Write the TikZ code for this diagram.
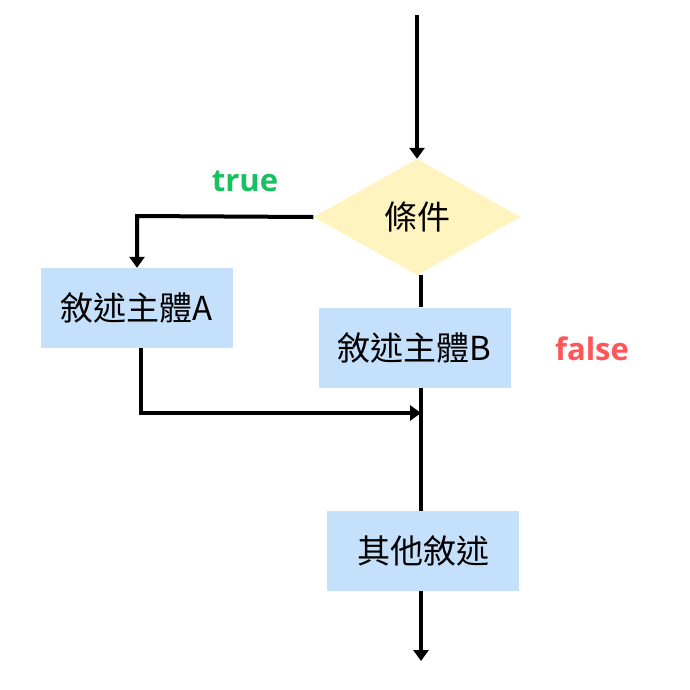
\documentclass[tikz,border=0pt]{standalone}
\usepackage{fontspec}
\usetikzlibrary{shapes.geometric,arrows.meta}
\newfontfamily\cjk{Noto Sans CJK TC}
\newfontfamily\labfont{Open Sans}
\definecolor{boxblue}{RGB}{197,224,250}
\definecolor{condyellow}{RGB}{255,243,191}
\definecolor{truegreen}{RGB}{23,192,96}
\definecolor{falsered}{RGB}{255,84,88}
\tikzset{
  stmt/.style={rectangle,fill=boxblue,inner sep=0pt,minimum width=192pt,minimum height=80pt,font=\cjk\fontsize{33}{38}\selectfont},
  cond/.style={diamond,fill=condyellow,inner sep=0pt,minimum width=207pt,minimum height=116pt,aspect=1.78,font=\cjk\fontsize{33}{38}\selectfont},
  conn/.style={line width=4pt,draw=black},
  arr/.style={conn,-{Triangle[width=15pt,length=11pt]}},
  lab/.style={font=\labfont\bfseries\fontsize{31}{36}\selectfont,inner sep=0pt}
}
\begin{document}
\begin{tikzpicture}[x=1pt,y=-1pt]
\useasboundingbox (0,0) rectangle (690,689);
\node[cond] (c) at (417,217) {條件};
\node[stmt] (a) at (137,308) {敘述主體A};
\node[stmt] (b) at (414.5,347.5) {敘述主體B};
\node[stmt] (o) at (423,551) {其他敘述};
\node[lab,text=truegreen] (t) at (245,181) {true};
\node[lab,text=falsered] (f) at (592,349) {false};
\coordinate (top) at (417,15);
\coordinate (trunk) at (421,0);
\coordinate (bend) at (137,216);
\coordinate (join) at (141,413);
\coordinate (end) at (421,661);
\draw[arr] (top) -- (c.north);
\draw[arr] (c.west) -- (bend) -- (a.north -| bend);
\draw[conn] (c.south -| trunk) -- (b.north -| trunk);
\draw[conn] (b.south -| trunk) -- (o.north -| trunk);
\draw[arr] (a.south -| join) -- (join) -- (join -| trunk);
\draw[arr] (o.south -| trunk) -- (end);
\end{tikzpicture}
\end{document}
